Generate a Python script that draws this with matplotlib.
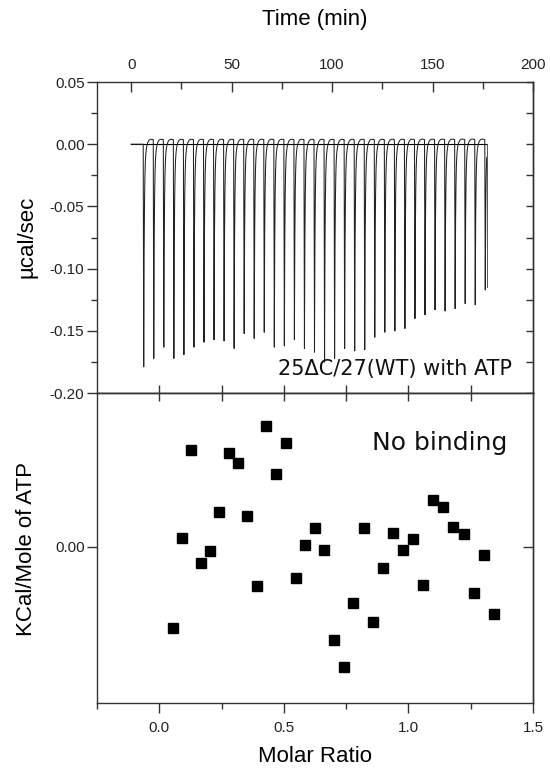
import numpy as np
import matplotlib
matplotlib.use("Agg")
import matplotlib.pyplot as plt
from matplotlib.ticker import MultipleLocator, FixedLocator, FormatStrFormatter

plt.rcParams['axes.unicode_minus'] = False
plt.rcParams['font.family'] = ['Liberation Sans', 'DejaVu Sans']

# ---------------- data ----------------
# ITC raw trace: injection times (min) and peak minima (ucal/sec)
inj_times = [6, 11, 16, 21, 26, 31, 36, 41, 46, 51, 56, 61, 66, 71, 76, 81, 86,
             91, 96, 101, 106, 111, 116, 121, 126, 131, 136, 141, 146, 151, 156,
             161, 166, 171, 176]
peak_depths = [-0.179, -0.172, -0.163, -0.172, -0.169, -0.163, -0.159, -0.157,
               -0.158, -0.164, -0.152, -0.156, -0.151, -0.163, -0.162, -0.157,
               -0.164, -0.167, -0.175, -0.172, -0.164, -0.166, -0.165, -0.155,
               -0.151, -0.150, -0.148, -0.140, -0.137, -0.133, -0.134, -0.132,
               -0.128, -0.129, -0.117]
trace_end = 177

# Integrated heats
molar_ratio = [0.055, 0.091, 0.128, 0.166, 0.204, 0.241, 0.278, 0.316, 0.353,
               0.392, 0.430, 0.468, 0.508, 0.547, 0.586, 0.623, 0.662, 0.702,
               0.741, 0.779, 0.820, 0.858, 0.898, 0.937, 0.977, 1.017, 1.058,
               1.099, 1.140, 1.180, 1.222, 1.262, 1.304, 1.344]
heat = [-0.081, 0.009, 0.097, -0.016, -0.004, 0.035, 0.094, 0.084, 0.031,
        -0.039, 0.121, 0.073, 0.104, -0.031, 0.002, 0.019, -0.003, -0.093,
        -0.120, -0.056, 0.019, -0.075, -0.021, 0.014, -0.003, 0.008, -0.038,
        0.047, 0.040, 0.020, 0.013, -0.046, -0.008, -0.067]

top_xticks = [0, 50, 100, 150, 200]
bottom_xticks = [0.0, 0.5, 1.0, 1.5]

# ---------------- build trace from peaks ----------------
t = np.arange(0, trace_end, 0.01)
sig = np.zeros_like(t)
for ti, d in zip(inj_times, peak_depths):
    rise = (t >= ti) & (t < ti + 0.25)
    sig[rise] += d * (t[rise] - ti) / 0.25
    dec = t >= ti + 0.25
    dt = t[dec] - ti - 0.25
    sig[dec] += d * (0.85 * np.exp(-dt / 0.25) + 0.15 * np.exp(-dt / 1.0))
    sig[dec] += 0.005 * (dt / 2.5) * np.exp(1 - dt / 2.5) * (dt < 5)

# ---------------- figure ----------------
fig = plt.figure(figsize=(5.5, 7.72), dpi=100)
L, R = 97 / 550, 533 / 550
ax1 = fig.add_axes([L, 1 - 393 / 772, R - L, (393 - 82) / 772])
ax2 = fig.add_axes([L, 1 - 703 / 772, R - L, (703 - 393) / 772])

spine_c = '#333333'
for ax in (ax1, ax2):
    for s in ax.spines.values():
        s.set_linewidth(1.0)
        s.set_color(spine_c)

# Top panel
ax1.plot([0, trace_end], [0, 0], color='black', lw=0.8)
ax1.plot(t, sig, color='#222222', lw=0.75)
ax1.plot([trace_end, trace_end], [0, peak_depths[-1] * 0.98], color='#555555', lw=0.7)
ax1.set_xlim(-17, 200)
ax1.set_ylim(-0.20, 0.05)
ax1.xaxis.set_ticks_position('top')
ax1.xaxis.set_major_locator(FixedLocator(top_xticks))
ax1.xaxis.set_minor_locator(MultipleLocator(25))
ax1.tick_params(axis='x', which='major', direction='in', length=7, width=1,
                labelsize=11, pad=7.5, colors=spine_c, labelcolor='#222222')
ax1.tick_params(axis='x', which='minor', direction='in', length=5, width=1, colors=spine_c)
ax1.yaxis.set_major_locator(MultipleLocator(0.05))
ax1.yaxis.set_minor_locator(MultipleLocator(0.025))
ax1.yaxis.set_major_formatter(FormatStrFormatter('%.2f'))
ax1.tick_params(axis='y', which='major', direction='out', length=7, width=1,
                labelsize=11, pad=2, colors=spine_c, labelcolor='#222222')
ax1.tick_params(axis='y', which='minor', direction='out', length=4, width=1, colors=spine_c)
sec1 = ax1.secondary_yaxis('right')
sec1.yaxis.set_major_locator(MultipleLocator(0.025))
sec1.yaxis.set_minor_locator(FixedLocator([]))
sec1.tick_params(direction='in', length=5, width=1, labelright=False, colors=spine_c)
sec1.spines['right'].set_linewidth(1.0)
sec1.spines['right'].set_color(spine_c)

ax1.text((512 - 97) / 436, (393 - 375) / 311, '25\u0394C/27(WT) with ATP',
         transform=ax1.transAxes, ha='right', va='baseline', fontsize=15,
         family=['DejaVu Sans'], color='#111111')

# Bottom panel
ax2.plot(molar_ratio, heat, linestyle='none', marker='s', markersize=6.5,
         color='black')
ax2.set_xlim(-0.25, 1.5)
ax2.set_ylim(-0.156, 0.154)
ax2.xaxis.set_major_locator(FixedLocator(bottom_xticks))
ax2.xaxis.set_minor_locator(MultipleLocator(0.25))
ax2.xaxis.set_major_formatter(FormatStrFormatter('%.1f'))
ax2.tick_params(axis='x', which='major', direction='out', length=7, width=1,
                labelsize=11, pad=6, colors=spine_c, labelcolor='#222222')
ax2.tick_params(axis='x', which='minor', direction='out', length=4, width=1, colors=spine_c)
ax2.yaxis.set_major_locator(FixedLocator([0.0]))
ax2.yaxis.set_major_formatter(FormatStrFormatter('%.2f'))
ax2.tick_params(axis='y', which='major', direction='out', length=7, width=1,
                labelsize=11, pad=2, colors=spine_c, labelcolor='#222222')
sec2y = ax2.secondary_yaxis('right')
sec2y.yaxis.set_major_locator(FixedLocator([0.0]))
sec2y.tick_params(direction='in', length=7, width=1, labelright=False, colors=spine_c)
sec2y.spines['right'].set_linewidth(1.0)
sec2y.spines['right'].set_color(spine_c)
sec2x = ax2.secondary_xaxis('top')
sec2x.xaxis.set_major_locator(FixedLocator([0, 0.25, 0.5, 0.75, 1.0, 1.25]))
sec2x.tick_params(direction='inout', length=12, width=1, labeltop=False, colors=spine_c)
sec2x.spines['top'].set_linewidth(1.0)
sec2x.spines['top'].set_color(spine_c)

ax2.text((507 - 97) / 436, (703 - 443) / 310, 'No binding', transform=ax2.transAxes,
         ha='right', va='center', fontsize=18, family=['DejaVu Sans'], color='#111111')

# Axis labels
fig.text(315 / 550, 1 - 20 / 772, 'Time (min)', ha='center', va='center', fontsize=16)
fig.text(315 / 550, 1 - 757 / 772, 'Molar Ratio', ha='center', va='center', fontsize=16)
fig.text(27 / 550, 1 - 237 / 772, '\u00b5cal/sec', ha='center', va='center',
         rotation=90, fontsize=16)
fig.text(27 / 550, 1 - 549 / 772, 'KCal/Mole of ATP', ha='center', va='center',
         rotation=90, fontsize=16)

fig.savefig('out.png', dpi=100, facecolor='white')
